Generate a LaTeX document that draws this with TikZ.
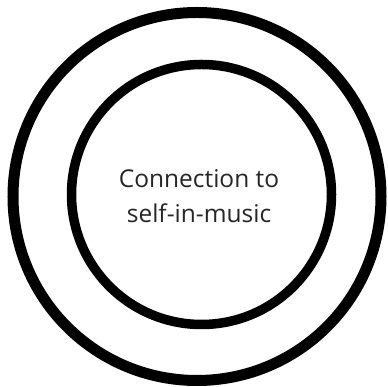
\documentclass[tikz,border=0pt]{standalone}
\usepackage{fontspec}
\setmainfont{Open Sans}
\tikzset{ring/.style={draw=black,fill=none,circle,inner sep=0pt}, txtstyle/.style={align=center,font=\fontsize{24.5}{35}\selectfont,text=black!85}}
\begin{document}
\begin{tikzpicture}[x=1pt,y=1pt]
\useasboundingbox[fill=white] (0,0) rectangle (388,387);
\node[ring,line width=11pt,minimum size=368pt] (outer) at (197,190.5) {};
\node[ring,line width=9.5pt,minimum size=260pt] (inner) at (201.5,192.5) {};
\node[txtstyle] (txt) at (199,191) {Connection to\\self-in-music};
\end{tikzpicture}
\end{document}
